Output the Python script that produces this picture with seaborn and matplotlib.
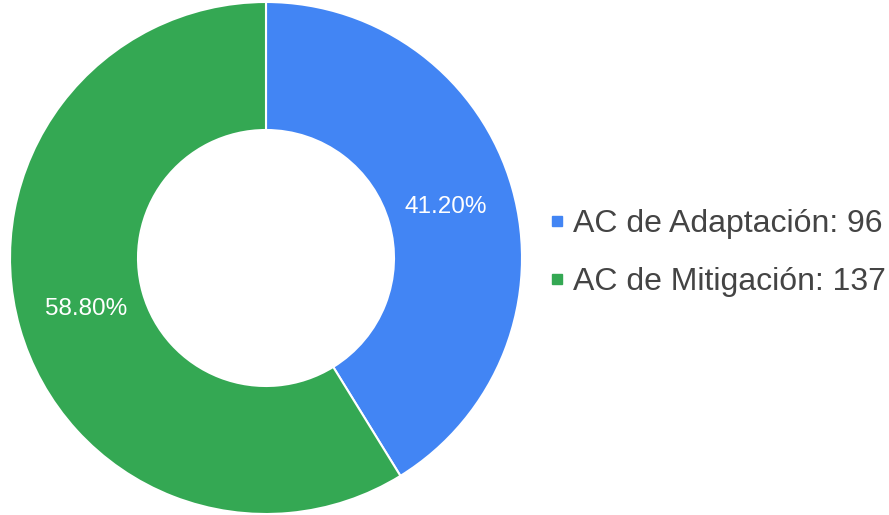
import matplotlib
matplotlib.use("Agg")
import matplotlib.pyplot as plt
from matplotlib.lines import Line2D
import seaborn as sns

categories = ['AC de Adaptación', 'AC de Mitigación']
counts = [96, 137]
colors = ['#4285F4', '#34A853']

sns.set_style('white')
plt.rcParams['font.family'] = ['Liberation Sans', 'DejaVu Sans']

fig = plt.figure(figsize=(8.89, 5.15), dpi=100)
# square axes in pixels, donut centre near (266, 258)
ax = fig.add_axes([10 / 889, 1 / 515, 512 / 889, 512 / 515])

wedges, texts, autotexts = ax.pie(
    counts, colors=colors, startangle=90, counterclock=False,
    radius=1, autopct='%.2f%%', pctdistance=0.73,
    wedgeprops=dict(width=0.5, edgecolor='white', linewidth=1.5),
    textprops=dict(color='white', fontsize=17.5))
ax.set_xlim(-1, 1)
ax.set_ylim(-1, 1)
ax.set_aspect('equal')
ax.axis('off')

handles = [Line2D([0], [0], marker='s', linestyle='', markersize=6.5,
                  markerfacecolor=c, markeredgecolor=c) for c in colors]
labels = [f'{cat}: {n}' for cat, n in zip(categories, counts)]
fig.legend(handles, labels, loc='center left',
           bbox_to_anchor=(549 / 889, 1 - 253 / 515),
           frameon=False, fontsize=23, labelcolor='#444444',
           borderaxespad=0, borderpad=0,
           handlelength=0.5, handletextpad=0.25, labelspacing=0.88)

fig.savefig('out.png', dpi=100)
